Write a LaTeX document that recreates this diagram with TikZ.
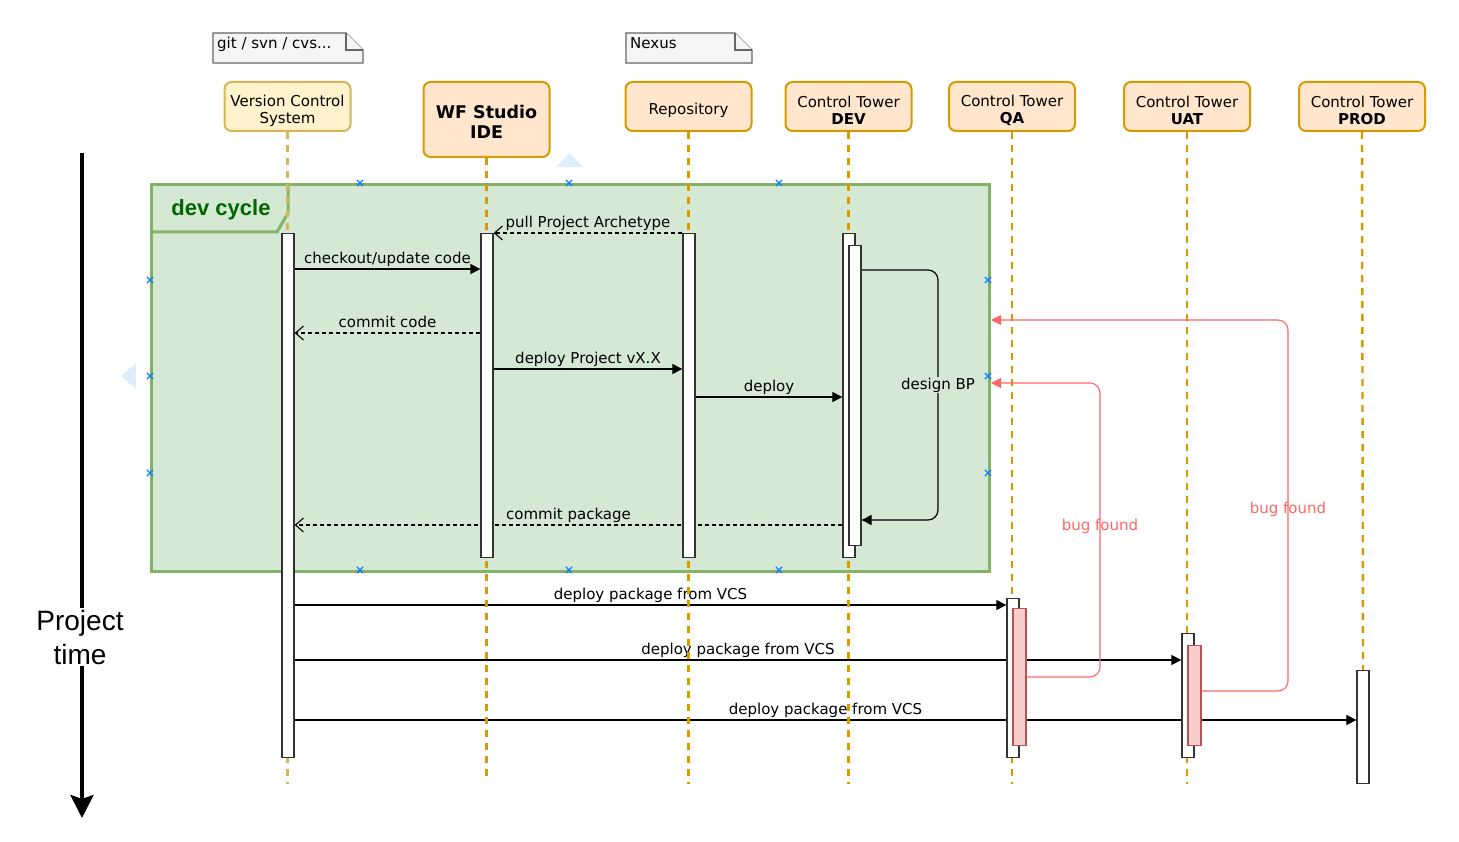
\documentclass[tikz,border=0pt]{standalone}
\usepackage{fontspec}
\setmainfont{DejaVu Sans}
\newfontfamily\arialf{Liberation Sans}
\usetikzlibrary{arrows.meta,shapes.misc}
\definecolor{vcsfill}{HTML}{FFF2CC}
\definecolor{vcsstroke}{HTML}{D6B656}
\definecolor{hdrfill}{HTML}{FFE6CC}
\definecolor{hdrstroke}{HTML}{D79B00}
\definecolor{framefill}{HTML}{D5E8D4}
\definecolor{framestroke}{HTML}{82B366}
\definecolor{devgreen}{HTML}{006600}
\definecolor{barstroke}{HTML}{333333}
\definecolor{pinkfill}{HTML}{F8CECC}
\definecolor{pinkstroke}{HTML}{B85450}
\definecolor{bugred}{HTML}{FF6666}
\definecolor{notefill}{HTML}{F5F5F5}
\definecolor{notestroke}{HTML}{666666}
\definecolor{selblue}{HTML}{0A7CFF}
\definecolor{selpale}{HTML}{DCEEFA}
\pgfdeclarelayer{bg}
\pgfdeclarelayer{mid}
\pgfsetlayers{bg,mid,main}
\begin{document}
\begin{tikzpicture}[x=1pt,y=-1pt,
  txt/.style={font=\fontsize{15}{17}\selectfont, text=black},
  hdr/.style={draw=hdrstroke, fill=hdrfill, line width=2pt, rounded corners=7pt,
    minimum width=126pt, minimum height=49pt, inner sep=0pt},
  hdrv/.style={hdr, draw=vcsstroke, fill=vcsfill},
  htxt/.style={txt, align=center, inner sep=0pt},
  life/.style={draw=hdrstroke, line width=2.4pt, dash pattern=on 7pt off 6pt},
  lifev/.style={life, draw=vcsstroke},
  barw/.style={draw=barstroke, fill=white, line width=1.3pt, minimum width=12pt, inner sep=0pt, anchor=north},
  barp/.style={barw, draw=pinkstroke, fill=pinkfill, minimum width=13pt},
  msg/.style={draw=black, line width=1.2pt, -{Triangle[length=10pt,width=10pt]}},
  ret/.style={draw=black, line width=1.1pt, dash pattern=on 4pt off 3pt, -{Straight Barb[length=8pt,width=14pt]}},
  lbl/.style={txt, inner sep=1pt, text depth=4pt, above, midway},
  bug/.style={draw=bugred, line width=1.1pt, rounded corners=10pt, -{Triangle[length=10pt,width=10pt]}},
  bugtxt/.style={font=\fontsize{15}{17}\selectfont, text=bugred, inner sep=0pt},
  notestyle/.style={draw=notestroke, fill=notefill, line width=1.2pt},
  selx/.style={cross out, draw=selblue, line width=1.2pt, minimum size=5pt, inner sep=0pt}
]
\useasboundingbox (0,0) rectangle (1459,842);

% selection hints
\fill[selpale] (556,167) -- (583,167) -- (569.5,153) -- cycle;
\fill[selpale] (136,363) -- (136,389) -- (121,376) -- cycle;

% notes
\draw[notestyle] (213,33) -- (346,33) -- (363,50) -- (363,63) -- (213,63) -- cycle;
\draw[notestyle] (346,33) -- (346,50) -- (363,50);
\node[txt, anchor=north west, inner sep=0pt] (gitnote) at (217,37) {git / svn / cvs...};
\draw[notestyle] (626,33) -- (735,33) -- (752,50) -- (752,63) -- (626,63) -- cycle;
\draw[notestyle] (735,33) -- (735,50) -- (752,50);
\node[txt, anchor=north west, inner sep=0pt] (nexusnote) at (630,37) {Nexus};

% headers
\node[hdrv] (vcs) at (287.5,106.5) {};
\node[htxt] (vcst) at ([yshift=-4pt]vcs.center) {Version Control\\System};
\node[hdr, minimum height=75pt] (wf) at (486.5,119.5) {};
\node[htxt, font=\bfseries\fontsize{17.5}{20}\selectfont] (wft) at ([yshift=-2pt]wf.center) {WF Studio\\IDE};
\node[hdr] (repo) at (688.5,106.5) {};
\node[htxt] (repot) at ([yshift=-4pt]repo.center) {Repository};
\node[hdr] (dev) at (848.5,106.5) {};
\node[htxt] (devt) at ([yshift=-4pt]dev.center) {Control Tower\\\textbf{DEV}};
\node[hdr] (qa) at (1012,106.5) {};
\node[htxt] (qat) at ([yshift=-4pt]qa.center) {Control Tower\\\textbf{QA}};
\node[hdr] (uat) at (1187,106.5) {};
\node[htxt] (uatt) at ([yshift=-4pt]uat.center) {Control Tower\\\textbf{UAT}};
\node[hdr] (prod) at (1362,106.5) {};
\node[htxt] (prodt) at ([yshift=-4pt]prod.center) {Control Tower\\\textbf{PROD}};

% activation bars
\node[barw, minimum height=524pt] (vcsbar) at (288,233) {};
\node[barw, minimum height=324pt] (wfbar) at (487,233) {};
\node[barw, minimum height=324pt] (repobar) at (689,233) {};
\node[barw, minimum height=324pt] (devbar) at (849,233) {};
\node[barw, minimum height=300pt] (devin) at (855,245) {};
\node[barw, minimum height=159pt] (qabar) at (1013,598) {};
\node[barp, minimum height=137pt] (qain) at (1019.5,608) {};
\node[barw, minimum height=124pt] (uatbar) at (1188,633) {};
\node[barp, minimum height=100pt] (uatin) at (1194.5,645) {};
\node[barw, minimum height=113pt] (prodbar) at (1363,670) {};

% frame
\begin{pgfonlayer}{bg}
\node[draw=framestroke, fill=framefill, line width=3pt, minimum width=838pt, minimum height=387pt,
  anchor=north west, inner sep=0pt] (devframe) at (150,183) {};
\draw[draw=framestroke, line width=3pt] (288,183) -- (288,213) -- (277,232) -- (150,232);
\node[font=\arialf\bfseries\fontsize{22}{24}\selectfont, text=devgreen, inner sep=0pt] (devlbl) at (221,210) {dev cycle};
\end{pgfonlayer}

% messages and lifelines
\begin{pgfonlayer}{mid}
\draw[ret] (repobar.north west) -- (wfbar.north east) node[lbl]{pull Project Archetype};
\draw[msg] ([yshift=-36pt]vcsbar.north east) -- ([yshift=-36pt]wfbar.north west) node[lbl]{checkout/update code};
\draw[ret] ([yshift=-100pt]wfbar.north west) -- ([yshift=-100pt]vcsbar.north east) node[lbl]{commit code};
\draw[msg] ([yshift=-136pt]wfbar.north east) -- ([yshift=-136pt]repobar.north west) node[lbl]{deploy Project vX.X};
\draw[msg] ([yshift=-164pt]repobar.north east) -- ([yshift=-164pt]devbar.north west) node[lbl]{deploy};
\coordinate (dbp) at (938,520);
\draw[msg, rounded corners=10pt] ([yshift=-25pt]devin.north east) -| (dbp) -- ([yshift=-275pt]devin.north east);
\node[txt, fill=framefill, inner sep=1pt] (dbplbl) at (938,385) {design BP};
\draw[ret] ([yshift=-292pt]devbar.north west) -- ([yshift=-292pt]vcsbar.north east) node[lbl]{commit package};
\draw[msg] ([yshift=-372pt]vcsbar.north east) -- ([yshift=-7pt]qabar.north west) node[lbl]{deploy package from VCS};
\draw[msg] ([yshift=-427pt]vcsbar.north east) -- ([yshift=-27pt]uatbar.north west) node[lbl]{deploy package from VCS};
\draw[msg] ([yshift=-487pt]vcsbar.north east) -- ([yshift=-50pt]prodbar.north west) node[lbl]{deploy package from VCS};

\coordinate (vcsend) at (287.5,784);
\coordinate (wfend) at (486.5,782);
\coordinate (repoend) at (688.5,784);
\coordinate (devend) at (848.5,784);
\coordinate (qaend) at (1012,784);
\coordinate (uatend) at (1187,784);
\draw[lifev] (vcs.south) -- (vcsend);
\draw[life] (wf.south) -- (wfend);
\draw[life] (repo.south) -- (repoend);
\draw[life] (dev.south) -- (devend);
\draw[life] (qa.south) -- (qaend);
\draw[life] (uat.south) -- (uatend);
\draw[life] (prod.south) -- (prodbar.north);
\end{pgfonlayer}

% bug found returns
\coordinate (bugA) at (1100,383);
\coordinate (bugB) at (1288,320);
\draw[bug] ([yshift=-69pt]qain.north east) -| (bugA) -- ([yshift=-200pt]devframe.north east);
\draw[bug] ([yshift=-46pt]uatin.north east) -| (bugB) -- ([yshift=-137pt]devframe.north east);
\node[bugtxt] (bugqa) at (1100,526) {bug found};
\node[bugtxt] (buguat) at (1288,509) {bug found};

% selection markers
\foreach \p [count=\i] in {(360,183),(569,183),(779,183),(150,280),(150,376),(150,473),
  (988,280),(988,376),(988,473),(360,570),(569,570),(779,570)}
  \node[selx] (sel\i) at \p {};

% project time axis
\coordinate (tstart) at (82,153);
\coordinate (tend) at (82,818);
\draw[line width=4pt, -{Stealth[length=23pt,width=23pt,inset=4pt]}] (tstart) -- (tend);
\node[fill=white, align=center, inner sep=2pt, font=\arialf\fontsize{28}{34}\selectfont] (tlbl) at (80,637) {Project\\time};
\end{tikzpicture}
\end{document}
